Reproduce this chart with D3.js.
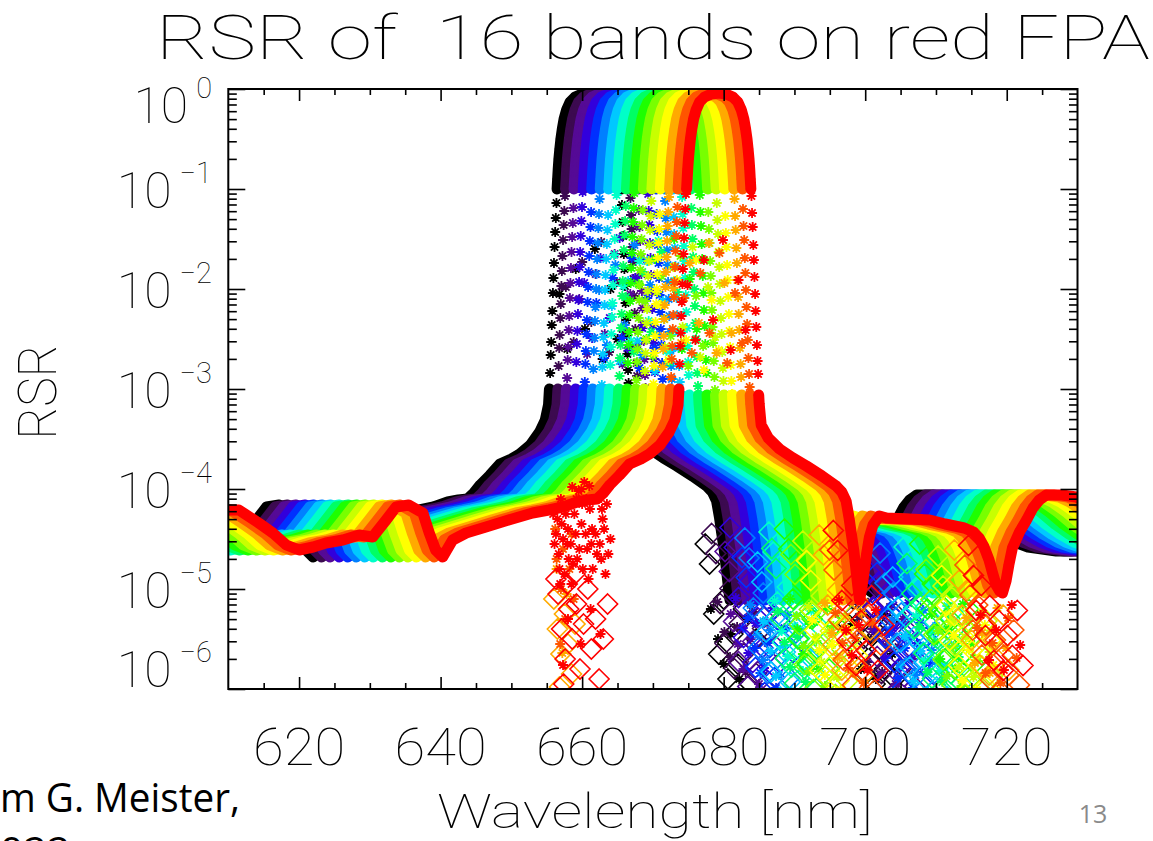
<!DOCTYPE html>
<html><head><meta charset="utf-8">
<script src="https://cdn.jsdelivr.net/npm/d3@7"></script>
<style>html,body{margin:0;padding:0;background:#fff;overflow:hidden}</style>
</head><body>
<svg id="chart" width="1153" height="841" xmlns="http://www.w3.org/2000/svg"></svg>
<script>
// ---------------- DATA ----------------
const bandColors = ["#000000","#3c0a50","#550a96","#3200dc","#0030ff","#0080ff","#00c8ff","#00ffc8",
                    "#00ff64","#1eff00","#78ff00","#c8ff00","#ffff00","#ffaa00","#ff5500","#ff0000"];
// band centre wavelengths [nm]
const bandCenters = [661.0,662.2,663.4,664.7,665.9,667.1,668.3,669.5,670.8,672.0,673.2,674.4,675.6,676.9,678.1,679.3];
// per-band scatter of the noisy samples (log10 and nm)
const bandJitterLog = [0.00,0.07,-0.05,0.11,-0.09,0.04,-0.12,0.08,-0.03,0.10,-0.07,0.02,-0.11,0.06,-0.04,0.09];
const bandJitterWl  = [0.0,-0.3,0.4,-0.2,0.3,-0.5,0.1,0.5,-0.4,0.2,-0.1,0.4,-0.3,0.2,0.5,-0.2];
// common RSR shape: [offset from band centre (nm), log10 RSR]
const bandProfile = [
 [-70.0,-4.21],[-67.8,-4.21],[-65.0,-4.34],[-63.0,-4.44],[-61.1,-4.56],[-59.3,-4.61],[-57.3,-4.58],[-55.5,-4.54],
 [-53.1,-4.51],[-50.8,-4.46],[-48.9,-4.48],[-47.0,-4.31],[-45.6,-4.18],[-43.8,-4.16],[-41.8,-4.24],[-40.9,-4.44],
 [-40.0,-4.61],[-39.0,-4.68],[-37.6,-4.51],[-35.7,-4.44],[-32.9,-4.38],[-29.7,-4.31],[-26.3,-4.24],[-24.0,-4.21],
 [-22.0,-4.18],[-20.0,-4.13],[-18.5,-4.11],[-17.2,-4.10],[-16.3,-4.04],[-15.4,-3.96],[-14.0,-3.86],[-12.6,-3.75],
 [-11.0,-3.70],[-9.8,-3.65],[-8.3,-3.56],[-7.0,-3.43],[-6.2,-3.31],[-5.75,-3.16],
 [-5.62,-3.00],[-5.52,-2.84],[-5.44,-2.66],[-5.37,-2.53],[-5.29,-2.36],[-5.22,-2.22],[-5.13,-2.04],[-5.06,-1.89],
 [-4.98,-1.74],[-4.90,-1.58],[-4.81,-1.43],[-4.72,-1.29],[-4.63,-1.14],
 [-4.54,-1.00],[-4.46,-0.90],[-4.38,-0.80],[-4.28,-0.70],[-4.15,-0.60],
 [-4.00,-0.50],[-3.80,-0.40],[-3.55,-0.30],[-3.20,-0.21],[-2.70,-0.13],[-2.00,-0.08],[-1.00,-0.05],[0.00,-0.04],
 [1.00,-0.05],[2.00,-0.08],[2.70,-0.13],[3.20,-0.21],[3.55,-0.30],[3.80,-0.40],[4.00,-0.50],[4.15,-0.60],
 [4.28,-0.70],[4.38,-0.80],[4.46,-0.90],[4.54,-1.00],
 [4.63,-1.16],[4.71,-1.33],[4.80,-1.47],[4.89,-1.65],[4.97,-1.80],[5.05,-1.97],[5.14,-2.14],[5.22,-2.31],
 [5.31,-2.47],[5.40,-2.65],[5.49,-2.81],[5.57,-2.94],[5.65,-3.06],
 [5.72,-3.15],[6.0,-3.36],[7.0,-3.49],[8.6,-3.60],[10.5,-3.69],[12.4,-3.77],[14.6,-3.87],[16.6,-3.97],
 [17.4,-4.03],[18.0,-4.12],[18.4,-4.28],[18.7,-4.43],[19.1,-4.62],[19.4,-4.81],[19.7,-5.00],[19.9,-5.11],
 [20.2,-5.00],[20.5,-4.85],[20.9,-4.65],[21.3,-4.48],[21.8,-4.36],[22.7,-4.27],[23.7,-4.29],[26.8,-4.30],
 [29.8,-4.31],[32.0,-4.35],[34.7,-4.39],[36.0,-4.43],[36.8,-4.49],[37.5,-4.58],[38.2,-4.71],[38.7,-4.84],
 [39.2,-4.96],[39.7,-5.02],[40.1,-5.04],[40.6,-4.92],[41.0,-4.76],[41.5,-4.59],[42.5,-4.43],[43.5,-4.31],
 [44.4,-4.19],[45.3,-4.11],[46.3,-4.06],[48.5,-4.06],[50.5,-4.08],[52.0,-4.13],[54.0,-4.23],[56.0,-4.35],
 [58.0,-4.45],[60.0,-4.53],[62.0,-4.58],[64.0,-4.60],[66.0,-4.62],[68.0,-4.62],[70.0,-4.60]
];
// isolated in-band and dip samples (asterisks): [offset nm, log10 RSR]
const bandScatter = [
 [-4.2,-2.05],[-3.1,-2.6],[-1.9,-1.8],[-0.6,-2.4],[0.8,-1.6],[1.9,-2.7],[3.0,-2.0],[4.0,-2.5],
 [17.2,-5.2],[18.2,-5.5],[19.0,-5.75],[20.0,-5.45],[21.2,-5.9],[22.4,-5.3],
 [37.2,-5.35],[38.4,-5.8],[39.4,-5.5],[40.5,-5.9],[41.6,-5.25],[42.8,-5.65]
];
// negative samples (diamonds, |RSR|): [offset nm, log10 |RSR|]
const bandNegative = [
 [16.4,-4.55],[17.0,-4.75],[17.6,-5.25],[18.3,-5.65],[19.0,-5.1],[19.6,-5.9],[20.3,-5.45],[21.0,-5.75],[21.8,-5.2],[22.7,-5.95],[23.6,-5.5],
 [35.5,-4.7],[36.2,-5.0],[36.6,-5.35],[37.3,-5.1],[37.9,-5.6],[38.5,-5.3],[39.1,-5.85],[39.8,-5.45],[40.4,-5.95],[41.0,-5.6],[41.7,-5.8],[42.4,-5.35],[43.2,-5.9]
];
// extra noisy samples of the last bands near 656-664 nm: [band, wavelength nm, log10 |RSR|, negative?]
const edgeNoise = [
 [15,655.9,-4.25,0],[15,656.3,-4.45,0],[15,656.7,-4.65,0],[15,657.1,-4.35,0],[15,657.5,-4.85,0],[15,657.9,-4.55,0],
 [15,658.3,-4.15,0],[15,658.7,-4.75,0],[15,659.1,-4.45,0],[15,659.5,-4.02,0],[15,659.9,-4.35,0],[15,660.3,-3.93,0],
 [15,660.7,-4.6,0],[15,661.1,-4.2,0],[15,661.5,-4.8,0],[15,661.9,-4.45,0],[15,662.3,-4.1,0],[15,662.7,-4.7,0],
 [15,663.1,-4.4,0],[15,663.5,-4.15,0],[15,664.0,-4.5,0],[15,657.3,-5.76,0],[15,658.0,-5.3,0],[15,659.8,-5.55,0],
 [15,661.2,-5.2,0],[15,662.6,-5.45,0],[15,658.6,-3.98,0],[15,661.0,-3.97,0],
 [15,656.1,-4.55,0],[15,656.9,-4.95,0],[15,657.7,-4.25,0],[15,658.5,-4.95,0],[15,659.3,-4.7,0],[15,660.0,-4.15,0],
 [15,660.9,-4.9,0],[15,661.7,-4.1,0],[15,662.5,-4.55,0],[15,663.3,-4.85,0],[15,658.0,-4.4,0],[15,660.5,-4.45,0],
 [15,656.5,-4.3,0],[15,657.3,-4.5,0],[15,658.1,-4.7,0],[15,658.9,-4.25,0],[15,659.6,-4.6,0],[15,660.1,-4.8,0],
 [15,660.6,-4.1,0],[15,661.4,-4.4,0],[15,662.1,-4.65,0],[15,662.9,-4.3,0],[15,663.7,-4.65,0],[15,659.2,-4.1,0],
 [15,657.0,-4.1,0],[15,658.4,-4.55,0],[15,659.9,-4.0,0],[15,661.3,-4.55,0],[15,662.8,-4.2,0],[15,656.8,-4.8,0],
 [15,656.6,-5.05,1],[15,657.1,-5.4,1],[15,657.6,-5.7,1],[15,658.1,-5.2,1],[15,658.6,-5.5,1],[15,659.2,-5.15,1],
 [15,659.7,-5.8,1],[15,660.2,-5.35,1],[15,660.8,-5.0,1],[15,661.3,-5.6,1],[15,661.9,-5.3,1],[15,662.4,-5.9,1],
 [15,663.0,-5.5,1],[15,663.6,-5.15,1],[15,657.4,-5.95,1],[15,656.3,-4.9,1],[15,657.9,-4.95,1],[15,659.0,-4.85,1],
 [14,656.4,-4.7,0],[14,657.0,-5.0,0],[14,657.6,-5.3,0],[14,658.2,-4.8,0],[14,658.8,-5.1,0],[14,656.9,-5.55,0],
 [14,656.2,-4.4,0],[14,657.3,-4.6,0],[14,658.5,-4.45,0],
 [13,656.0,-5.1,1],[13,656.5,-5.4,1],[13,657.0,-5.65,1],[13,657.5,-5.25,1],[13,658.0,-5.55,1],[13,658.5,-5.85,1],
 [13,659.0,-5.35,1],[13,656.8,-5.98,1],[13,657.2,-5.64,0],[13,656.4,-4.8,0],[13,657.8,-5.05,0]
];
const xMajorTicks = [620,640,660,680,700,720];
const xMinorTicks = [615,625,630,635,645,650,655,665,670,675,685,690,695,705,710,715,725];
const yLabelValues = [1,1e-1,1e-2,1e-3,1e-4,1e-5,2e-6];
const yLabelExps = ["0","\u22121","\u22122","\u22123","\u22124","\u22125","\u22126"];
const titleText = "RSR of  16 bands on red FPA";
const xTitleText = "Wavelength [nm]";
const yTitleText = "RSR";
const footerText = "m G. Meister,";
const footerText2 = "022";
const pageNumber = "13";

// ---------------- FONT (thin vector-like face) ----------------
function pickFont(){
  const c = document.createElement('canvas').getContext('2d');
  const s = 'RSR of 16 bands Wavelength 0123456789';
  const cands = [['Roboto',100],['Inter',100],['Lato',100],['Noto Sans',100],['Open Sans',300],['DejaVu Sans',200],['Roboto',300],['Lato',300]];
  c.font = '400 40px monospace'; const m = c.measureText(s).width;
  for (const [f,w] of cands){
    c.font = `400 40px "${f}", monospace`; const a = c.measureText(s).width;
    c.font = `${w} 40px "${f}", monospace`; const b = c.measureText(s).width;
    if (Math.abs(a-m) > 1 && Math.abs(a-b) > 0.3) return [f,w];
  }
  return ['DejaVu Sans',400];
}
const [FONT, FW] = pickFont();

// ---------------- CHART ----------------
const M = {l:228.3, r:1077.5, t:89, b:689};
const x = d3.scaleLinear().domain([610,730]).range([M.l,M.r]);
const y = d3.scaleLog().domain([1e-6,1]).range([M.b,M.t]);
const svg = d3.select('#chart');
svg.append('rect').attr('width',1153).attr('height',841).attr('fill','#fff');

svg.append('clipPath').attr('id','plotclip').append('rect')
  .attr('x',M.l).attr('y',M.t).attr('width',M.r-M.l).attr('height',M.b-M.t);
const plot = svg.append('g').attr('clip-path','url(#plotclip)');

const star = (px,py)=>`M${px-5},${py}h10M${px},${py-5}v10M${px-3.6},${py-3.6}l7.2,7.2M${px-3.6},${py+3.6}l7.2,-7.2`;
const diamond = (px,py,r)=>`M${px},${py-r}l${r},${r}l${-r},${r}l${-r},${-r}z`;
const line = d3.line().x(d=>x(d.wl)).y(d=>y(d.v));
const slopeMax = 1.3; // decades per nm above which samples appear as separate symbols
const P = l => Math.pow(10,l);

bandCenters.forEach((c,k)=>{
  const col = bandColors[k], jl = bandJitterLog[k], jw = bandJitterWl[k];
  const g = plot.append('g');
  const pts = bandProfile.map(([o,l])=>({o, l, wl:c+o, v:P(l), iso:true}));
  const runs = []; let cur = [pts[0]];
  for (let i=1;i<pts.length;i++){
    const s = Math.abs(pts[i].l-pts[i-1].l)/(pts[i].o-pts[i-1].o);
    if (s <= slopeMax) cur.push(pts[i]); else { runs.push(cur); cur=[pts[i]]; }
  }
  runs.push(cur);
  runs.filter(r=>r.length>1).forEach(r=>{
    r.forEach(p=>p.iso=false);
    g.append('path').attr('d',line(r)).attr('fill','none').attr('stroke',col)
      .attr('stroke-width',11).attr('stroke-linejoin','round').attr('stroke-linecap','round');
  });
  const extra = edgeNoise.filter(d=>d[0]===k);
  const astPts = pts.map(d=> d.iso ? [d.wl, P(d.l+jl)] : [d.wl,d.v])
    .concat(bandScatter.map(([o,l])=>[c+o+jw,P(l+jl)]))
    .concat(extra.filter(d=>!d[3]).map(d=>[d[1],P(d[2])]));
  g.append('path').attr('d',astPts.map(([w,v])=>star(x(w),y(v))).join(''))
    .attr('fill','none').attr('stroke',col).attr('stroke-width',1.8);
  const negPts = bandNegative.map(([o,l])=>[c+o+jw,P(l+jl*1.5)])
    .concat(extra.filter(d=>d[3]).map(d=>[d[1],P(d[2])]));
  g.append('path').attr('d',negPts.map(([w,v])=>diamond(x(w),y(v),10)).join(''))
    .attr('fill','none').attr('stroke',col).attr('stroke-width',1.6);
});

// ---------------- AXES ----------------
const yAll = y.ticks();
const isMajor = v => Math.abs(Math.log10(v) - Math.round(Math.log10(v))) < 1e-6;
const yMajor = yAll.filter(isMajor), yMinor = yAll.filter(v=>!isMajor(v));
const styleAxis = g => { g.select('.domain').remove(); g.selectAll('line').attr('stroke','#000').attr('stroke-width',1.6); g.selectAll('text').remove(); };
const ax = svg.append('g');
ax.append('g').attr('transform',`translate(0,${M.b})`).call(d3.axisBottom(x).tickValues(xMajorTicks).tickSize(-12)).call(styleAxis);
ax.append('g').attr('transform',`translate(0,${M.b})`).call(d3.axisBottom(x).tickValues(xMinorTicks).tickSize(-6)).call(styleAxis);
ax.append('g').attr('transform',`translate(0,${M.t})`).call(d3.axisTop(x).tickValues(xMajorTicks).tickSize(-12)).call(styleAxis);
ax.append('g').attr('transform',`translate(0,${M.t})`).call(d3.axisTop(x).tickValues(xMinorTicks).tickSize(-6)).call(styleAxis);
ax.append('g').attr('transform',`translate(${M.l},0)`).call(d3.axisLeft(y).tickValues(yMajor).tickSize(-17)).call(styleAxis);
ax.append('g').attr('transform',`translate(${M.l},0)`).call(d3.axisLeft(y).tickValues(yMinor).tickSize(-8.5)).call(styleAxis);
ax.append('g').attr('transform',`translate(${M.r},0)`).call(d3.axisRight(y).tickValues(yMajor).tickSize(-17)).call(styleAxis);
ax.append('g').attr('transform',`translate(${M.r},0)`).call(d3.axisRight(y).tickValues(yMinor).tickSize(-8.5)).call(styleAxis);
svg.append('rect').attr('x',M.l).attr('y',M.t).attr('width',M.r-M.l).attr('height',M.b-M.t)
  .attr('fill','none').attr('stroke','#000').attr('stroke-width',2);

// ---------------- TEXT ----------------
const T = sel => sel.attr('font-family',`"${FONT}", "DejaVu Sans", sans-serif`).attr('font-weight',FW).attr('fill','#000');
xMajorTicks.forEach(v=>{
  svg.append('text').call(T).attr('x',x(v)).attr('y',765).attr('text-anchor','middle')
    .attr('font-size',52).attr('textLength',92).attr('lengthAdjust','spacingAndGlyphs').text(String(v));
});
const yNudge = [15,0,0,0,0,0,9];
yLabelValues.forEach((v,i)=>{
  const t = svg.append('text').call(T).attr('x',212).attr('y',y(v)+19+yNudge[i]).attr('text-anchor','end');
  t.append('tspan').style('font-size','50px').text('10');
  t.append('tspan').style('font-size','29px').attr('dx',8).attr('dy',-25).text(yLabelExps[i]);
});
svg.append('text').call(T).attr('x',653).attr('y',59).attr('text-anchor','middle').attr('font-size',62)
  .attr('textLength',994).attr('lengthAdjust','spacingAndGlyphs').style('white-space','pre').text(titleText);
svg.append('text').call(T).attr('x',655).attr('y',828).attr('text-anchor','middle').attr('font-size',49)
  .attr('textLength',436).attr('lengthAdjust','spacingAndGlyphs').text(xTitleText);
svg.append('text').call(T).attr('transform','translate(56,392) rotate(-90)').attr('text-anchor','middle')
  .attr('font-size',54).attr('textLength',95).attr('lengthAdjust','spacingAndGlyphs').text(yTitleText);
svg.append('text').attr('x',240).attr('y',812).attr('text-anchor','end').attr('font-family','"Open Sans", Lato, sans-serif')
  .attr('font-size',41).attr('fill','#000').attr('textLength',240).attr('lengthAdjust','spacingAndGlyphs').text(footerText);
svg.append('text').attr('x',0).attr('y',866).attr('font-family','"Open Sans", Lato, sans-serif')
  .attr('font-size',41).attr('fill','#000').text(footerText2);
svg.append('text').attr('x',1093).attr('y',823).attr('text-anchor','middle').attr('font-family','"Open Sans", Lato, sans-serif')
  .attr('font-size',25).attr('fill','#8a8a8a').text(pageNumber);
</script></body></html>
